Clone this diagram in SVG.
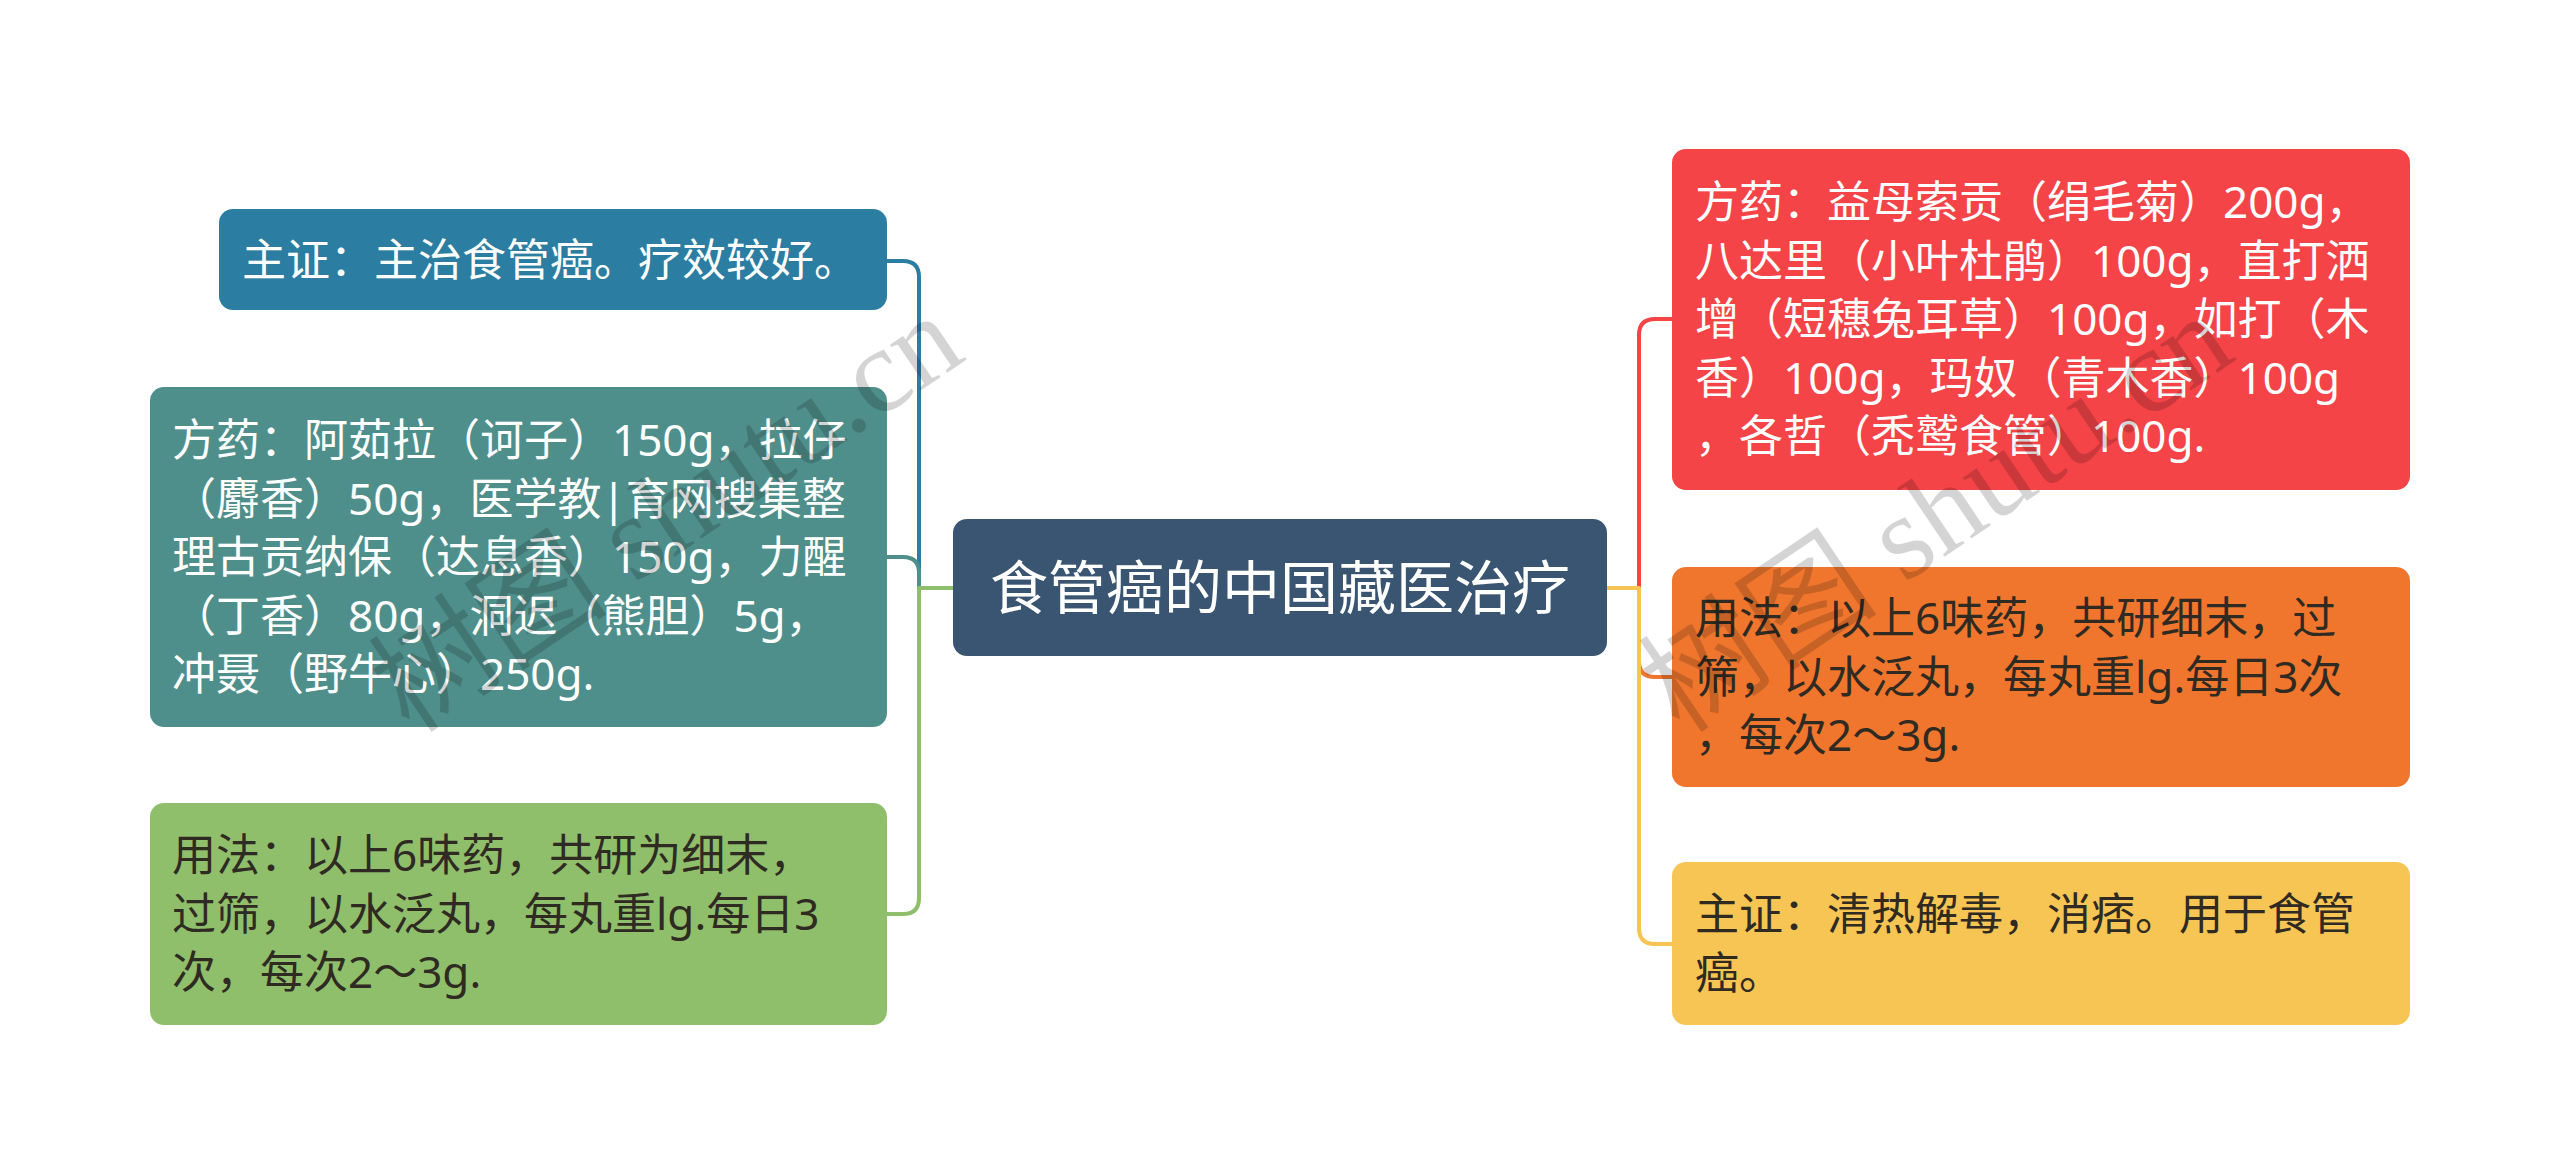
<svg xmlns="http://www.w3.org/2000/svg" width="2560" height="1176" viewBox="0 0 2560 1176">
<style>
.t{font-family:"Noto Sans","Noto Sans CJK SC","Liberation Sans",sans-serif;font-size:44px}
.w{fill:#ffffff}
.d{fill:#2f2a22}
.c{fill:none;stroke-width:4;stroke-linecap:round;stroke-linejoin:round}
.wm{font-family:"Liberation Serif","Noto Sans CJK SC",serif;font-size:120px;fill:#000;fill-opacity:0.17}
</style>
<rect x="0" y="0" width="2560" height="1176" fill="#ffffff"/>
<g id="connectors">
<path class="c" stroke="#2b7ea1" d="M953 588 H919 V277 Q919 261 903 261 H887"/>
<path class="c" stroke="#4f8f8b" d="M953 588 H919 V573 Q919 557 903 557 H887"/>
<path class="c" stroke="#8fbf6b" d="M953 588 H919 V898 Q919 914 903 914 H887"/>
<path class="c" stroke="#f54447" d="M1607 588 H1639 V335 Q1639 319 1655 319 H1672"/>
<path class="c" stroke="#f0762e" d="M1607 588 H1639 V661 Q1639 677 1655 677 H1672"/>
<path class="c" stroke="#f7c553" d="M1607 588 H1639 V928 Q1639 944 1655 944 H1672"/>
</g>
<g id="center">
<rect x="953" y="519" width="654" height="137" rx="14" fill="#3a5571"/>
<text class="t w" x="1280" y="609" text-anchor="middle" style="font-size:58px">食管癌的中国藏医治疗</text>
</g>
<g id="left1">
<rect x="219" y="209" width="668" height="101" rx="14" fill="#2b7ea1"/>
<text class="t w" x="242" y="276">主证：主治食管癌。疗效较好。</text>
</g>
<g id="left2">
<rect x="150" y="387" width="737" height="340" rx="14" fill="#4f8f8b"/>
<text class="t w">
<tspan x="172" y="456">方药：阿茹拉（诃子）150g，拉仔</tspan>
<tspan x="172" y="515">（麝香）50g，医学教|育网搜集整</tspan>
<tspan x="172" y="573">理古贡纳保（达息香）150g，力醒</tspan>
<tspan x="172" y="632">（丁香）80g，洞迟（熊胆）5g，</tspan>
<tspan x="172" y="690">冲聂（野牛心）250g.</tspan>
</text>
</g>
<g id="left3">
<rect x="150" y="803" width="737" height="222" rx="14" fill="#8fbf6b"/>
<text class="t d">
<tspan x="172" y="871">用法：以上6味药，共研为细末，</tspan>
<tspan x="172" y="930">过筛，以水泛丸，每丸重lg.每日3</tspan>
<tspan x="172" y="988">次，每次2～3g.</tspan>
</text>
</g>
<g id="right1">
<rect x="1672" y="149" width="738" height="341" rx="14" fill="#f54447"/>
<text class="t w">
<tspan x="1695" y="218">方药：益母索贡（绢毛菊）200g，</tspan>
<tspan x="1695" y="277">八达里（小叶杜鹃）100g，直打洒</tspan>
<tspan x="1695" y="335">增（短穗兔耳草）100g，如打（木</tspan>
<tspan x="1695" y="394">香）100g，玛奴（青木香）100g</tspan>
<tspan x="1695" y="452">，各哲（秃鹫食管）100g.</tspan>
</text>
</g>
<g id="right2">
<rect x="1672" y="567" width="738" height="220" rx="14" fill="#f0762e"/>
<text class="t d">
<tspan x="1695" y="634">用法：以上6味药，共研细末，过</tspan>
<tspan x="1695" y="693">筛，以水泛丸，每丸重lg.每日3次</tspan>
<tspan x="1695" y="751">，每次2～3g.</tspan>
</text>
</g>
<g id="right3">
<rect x="1672" y="862" width="738" height="163" rx="14" fill="#f7c553"/>
<text class="t d">
<tspan x="1695" y="930">主证：清热解毒，消痞。用于食管</tspan>
<tspan x="1695" y="989">癌。</tspan>
</text>
</g>
<g id="watermark">
<text class="wm" transform="translate(410 735) rotate(-34)">树图 shutu.cn</text>
<text class="wm" transform="translate(1680 735) rotate(-34)">树图 shutu.cn</text>
</g>
</svg>
